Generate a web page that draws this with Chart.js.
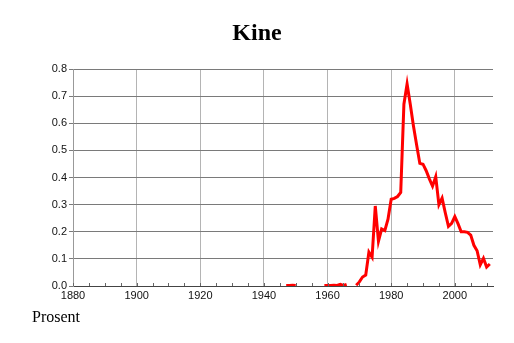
<!DOCTYPE html>
<html>
<head>
<meta charset="utf-8">
<script src="https://cdn.jsdelivr.net/npm/chart.js@4"></script>
<style>
  html, body { margin: 0; padding: 0; background: #fff; }
  #wrap { width: 514px; height: 343px; }
</style>
</head>
<body>
<div id="wrap"><canvas id="kineChart" width="514" height="343"></canvas></div>
<script>
// Share of people named Kine (percent), by year. null = no data (gap in line)
const years = [
  1947, 1948, 1949, 1950, 1951, 1952, 1953, 1954, 1955, 1956, 1957, 1958,
  1959, 1960, 1961, 1962, 1963, 1964, 1965, 1966, 1967, 1968,
  1969, 1970, 1971, 1972, 1973, 1974, 1975, 1976, 1977, 1978, 1979,
  1980, 1981, 1982, 1983, 1984, 1985, 1986, 1987, 1988, 1989,
  1990, 1991, 1992, 1993, 1994, 1995, 1996, 1997, 1998, 1999,
  2000, 2001, 2002, 2003, 2004, 2005, 2006, 2007, 2008, 2009, 2010, 2011
];
const shares = [
  0.002, 0.002, 0.003, 0.002, null, null, null, null, null, null, null, null,
  0.002, 0.002, 0.002, 0.003, 0.002, 0.006, 0.002, 0.006, null, null,
  0.003, 0.015, 0.033, 0.04, 0.125, 0.106, 0.295, 0.165, 0.21, 0.204, 0.246,
  0.32, 0.323, 0.33, 0.345, 0.67, 0.745, 0.67, 0.59, 0.52, 0.452,
  0.449, 0.425, 0.395, 0.368, 0.403, 0.30, 0.324, 0.27, 0.22, 0.231,
  0.256, 0.23, 0.20, 0.20, 0.198, 0.188, 0.15, 0.13, 0.078, 0.102, 0.07, 0.081
];
const yearTicks = [1880, 1900, 1920, 1940, 1960, 1980, 2000];
const minorYearTicks = [
  1880, 1885, 1890, 1895, 1900, 1905, 1910, 1915, 1920, 1925, 1930, 1935,
  1940, 1945, 1950, 1955, 1960, 1965, 1970, 1975, 1980, 1985, 1990, 1995,
  2000, 2005, 2010
];
const chartTitle = 'Kine';
const unitLabel = 'Prosent';

// small ticks along the bottom axis, pointing up into the plot
const minorTicks = {
  id: 'minorTicks',
  afterDraw(chart) {
    const ctx = chart.ctx;
    const xs = chart.scales.x;
    const bottom = chart.chartArea.bottom;
    ctx.save();
    ctx.strokeStyle = '#666';
    ctx.lineWidth = 1;
    minorYearTicks.forEach(y => {
      const px = Math.round(xs.getPixelForValue(y)) + 0.5;
      ctx.beginPath();
      ctx.moveTo(px, bottom);
      ctx.lineTo(px, bottom - 3);
      ctx.stroke();
    });
    // unit label under the axis
    ctx.fillStyle = '#000';
    ctx.font = '16px "Liberation Serif", serif';
    ctx.textBaseline = 'alphabetic';
    ctx.textAlign = 'left';
    ctx.fillText(unitLabel, 32, 322);
    ctx.restore();
  }
};

new Chart(document.getElementById('kineChart'), {
  type: 'line',
  data: {
    datasets: [{
      label: chartTitle,
      data: years.map((y, i) => ({ x: y, y: shares[i] })),
      borderColor: '#ff0000',
      borderWidth: 3,
      pointRadius: 0,
      tension: 0,
      spanGaps: false
    }]
  },
  options: {
    responsive: false,
    animation: false,
    devicePixelRatio: 1,
    layout: { padding: { left: 0, right: 0, top: 0, bottom: 37 } },
    plugins: {
      legend: { display: false },
      tooltip: { enabled: false },
      title: {
        display: true,
        text: chartTitle,
        color: '#000',
        font: { family: '"Liberation Serif", serif', size: 24, weight: 'bold' },
        padding: { top: 19, bottom: 21.2 }
      }
    },
    scales: {
      x: {
        type: 'linear',
        min: 1880,
        max: 2012,
        afterBuildTicks: s => { s.ticks = yearTicks.map(v => ({ value: v })); },
        afterFit: s => { s.height = 20; },
        ticks: {
          autoSkip: false,
          maxRotation: 0,
          padding: 3,
          color: '#111',
          font: { family: '"Liberation Sans", sans-serif', size: 11 },
          callback: v => String(v)
        },
        grid: { color: '#b4b4b4', lineWidth: 1, tickLength: 0 },
        border: { display: true, color: '#444' }
      },
      y: {
        min: 0,
        max: 0.8,
        afterFit: s => { s.width = 73; },
        ticks: {
          stepSize: 0.1,
          padding: 2,
          color: '#111',
          font: { family: '"Liberation Sans", sans-serif', size: 11 },
          callback: v => v.toFixed(1)
        },
        grid: { color: '#7a7a7a', lineWidth: 1, tickLength: 4 },
        border: { display: true, color: '#999' }
      },
      // empty right-hand axis, only keeps the plot clear of the right edge
      yRight: {
        position: 'right',
        min: 0,
        max: 0.8,
        afterFit: s => { s.width = 21; },
        ticks: { display: false },
        grid: { display: false },
        border: { display: false }
      }
    }
  },
  plugins: [minorTicks]
});
</script>
</body>
</html>
